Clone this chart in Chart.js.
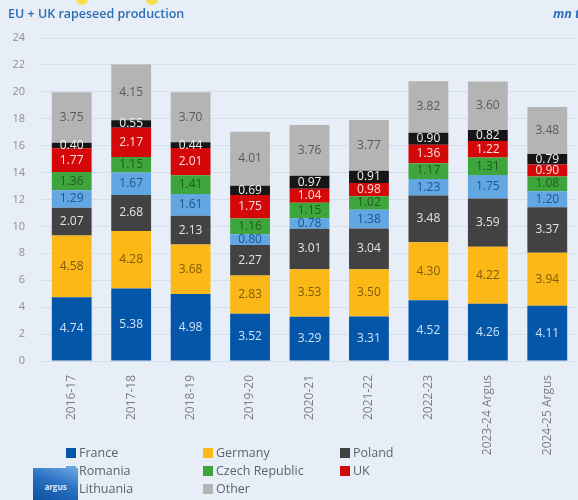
<!DOCTYPE html>
<html>
<head>
<meta charset="utf-8">
<script src="https://cdn.jsdelivr.net/npm/chart.js@4/dist/chart.umd.min.js"></script>
<style>
    html, body { margin: 0; padding: 0; }
    body {
        width: 578px; height: 500px; overflow: hidden; position: relative;
        background: #e8eef8; font-family: 'Open Sans', sans-serif;
    }
    #chart-wrap { position: absolute; left: 0; top: 0; width: 578px; height: 500px; }
    .title { position: absolute; left: 8px; top: 5px; font-size: 12.5px; font-weight: 600; color: #2d6db4; }
    .unit { position: absolute; left: 553px; top: 5px; font-size: 12.5px; font-weight: 700; font-style: italic; color: #2d6db4; white-space: nowrap; }
    .dot { position: absolute; width: 12px; height: 12px; border-radius: 50%; background: #f7e04a; top: -7px; }
    .legend { position: absolute; left: 66px; top: 444px; display: grid; grid-template-columns: 137px 137px 120px; row-gap: 1px; }
    .legend div { font-size: 12.5px; color: #5a636e; line-height: 17px; white-space: nowrap; }
    .legend span { display: inline-block; width: 10px; height: 10px; margin-right: 3px; vertical-align: -1px; }
    .logo {
        position: absolute; left: 33px; top: 468px; width: 45px; height: 32px;
        background: linear-gradient(200deg, #6fa8e0 0%, #2a73c4 45%, #0c4f9e 100%);
        color: #dce9f8; font-size: 8px; font-weight: 700; line-height: 38px; text-align: center;
    }
</style>
</head>
<body>
<div class="dot" style="left:76px"></div>
<div class="dot" style="left:146px"></div>
<div id="chart-wrap"><canvas id="rapeChart" width="578" height="500"></canvas></div>
<div class="title">EU + UK rapeseed production</div>
<div class="unit">mn t</div>
<div class="legend" id="legend"></div>
<div class="logo">argus</div>

<script>
"use strict";

// Marketing years
const seasons = ['2016-17', '2017-18', '2018-19', '2019-20', '2020-21', '2021-22', '2022-23', '2023-24 Argus', '2024-25 Argus'];

// Production by country, mn t (stacked bottom to top)
const france     = [4.74, 5.38, 4.98, 3.52, 3.29, 3.31, 4.52, 4.26, 4.11];
const germany    = [4.58, 4.28, 3.68, 2.83, 3.53, 3.50, 4.30, 4.22, 3.94];
const poland     = [2.07, 2.68, 2.13, 2.27, 3.01, 3.04, 3.48, 3.59, 3.37];
const romania    = [1.29, 1.67, 1.61, 0.80, 0.78, 1.38, 1.23, 1.75, 1.20];
const czech      = [1.36, 1.15, 1.41, 1.16, 1.15, 1.02, 1.17, 1.31, 1.08];
const uk         = [1.77, 2.17, 2.01, 1.75, 1.04, 0.98, 1.36, 1.22, 0.90];
const lithuania  = [0.40, 0.55, 0.44, 0.69, 0.97, 0.91, 0.90, 0.82, 0.79];
const other      = [3.75, 4.15, 3.70, 4.01, 3.76, 3.77, 3.82, 3.60, 3.48];

const yTicks = [0, 2, 4, 6, 8, 10, 12, 14, 16, 18, 20, 22, 24];

const series = [
    { label: 'France',         data: france,    color: '#0456a8', text: '#cfe2fb' },
    { label: 'Germany',        data: germany,   color: '#fbb817', text: '#7d5c08' },
    { label: 'Poland',         data: poland,    color: '#424242', text: '#e4e4e4' },
    { label: 'Romania',        data: romania,   color: '#62a6e2', text: '#1d548f' },
    { label: 'Czech Republic', data: czech,     color: '#3ea53c', text: '#1f5c1c' },
    { label: 'UK',             data: uk,        color: '#d40808', text: '#fbe0e0' },
    { label: 'Lithuania',      data: lithuania, color: '#161616', text: '#f2f2f2' },
    { label: 'Other',          data: other,     color: '#b4b4b4', text: '#5a5a5a' }
];

// Value labels inside each segment
const segmentLabels = {
    id: 'segmentLabels',
    afterDatasetsDraw(chart) {
        const ctx = chart.ctx;
        ctx.save();
        ctx.font = '12px "Open Sans", sans-serif';
        ctx.textAlign = 'center';
        ctx.textBaseline = 'middle';
        chart.data.datasets.forEach((ds, i) => {
            chart.getDatasetMeta(i).data.forEach((bar, j) => {
                const mid = (bar.y + bar.base) / 2;
                ctx.fillStyle = series[i].text;
                ctx.fillText(ds.data[j].toFixed(2), bar.x, mid);
            });
        });
        ctx.restore();
    }
};

const ctx = document.getElementById('rapeChart').getContext('2d');
new Chart(ctx, {
    type: 'bar',
    data: {
        labels: seasons,
        datasets: series.map(s => ({
            label: s.label,
            data: s.data,
            backgroundColor: s.color,
            borderWidth: 0,
            barPercentage: 0.67,
            categoryPercentage: 1
        }))
    },
    options: {
        responsive: false,
        animation: false,
        layout: { padding: { top: 38, right: 1, left: 0, bottom: 0 } },
        plugins: {
            legend: { display: false },
            tooltip: { enabled: false }
        },
        scales: {
            x: {
                stacked: true,
                grid: { display: false },
                border: { display: false },
                ticks: {
                    color: '#7a7f86',
                    font: { family: 'Open Sans', size: 12 },
                    minRotation: 90,
                    maxRotation: 90,
                    padding: 6
                },
                afterFit(scale) { scale.height = 139; }
            },
            y: {
                stacked: true,
                min: 0,
                max: 24,
                afterBuildTicks(scale) { scale.ticks = yTicks.map(v => ({ value: v })); },
                grid: { color: '#d6dee9', drawTicks: false },
                border: { display: false },
                ticks: {
                    color: '#8a8f96',
                    font: { family: 'Open Sans', size: 11 },
                    padding: 17
                },
                afterFit(scale) { scale.width = 42; }
            }
        }
    },
    plugins: [segmentLabels]
});

// Legend in three columns
const legendEl = document.getElementById('legend');
const legendOrder = ['France', 'Germany', 'Poland', 'Romania', 'Czech Republic', 'UK', 'Lithuania', 'Other'];
legendOrder.forEach(name => {
    const s = series.find(x => x.label === name);
    const item = document.createElement('div');
    item.innerHTML = '<span style="background:' + s.color + '"></span>' + name;
    legendEl.appendChild(item);
});
</script>
</body>
</html>
